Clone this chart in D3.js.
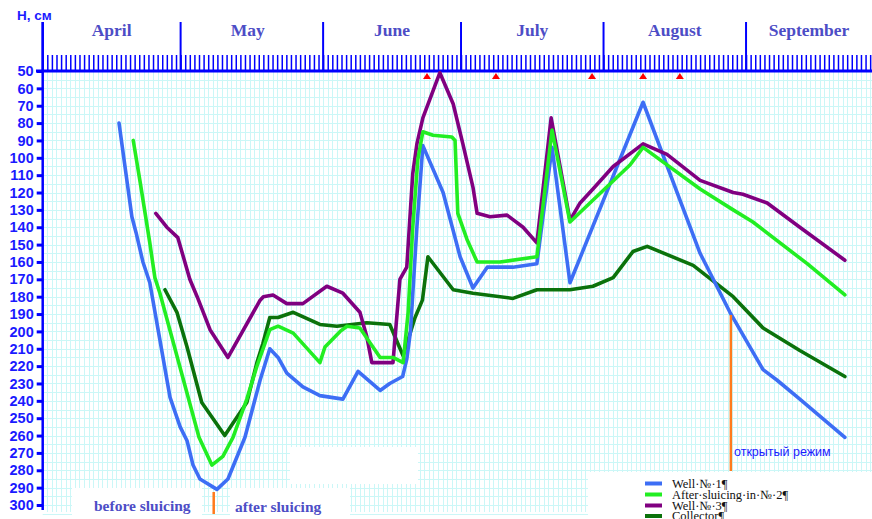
<!DOCTYPE html>
<html>
<head>
<meta charset="utf-8">
<script src="https://cdn.jsdelivr.net/npm/d3@7"></script>
<style>
  html, body { margin: 0; padding: 0; background: #fff; }
  svg { display: block; }
</style>
</head>
<body>
<svg id="chart" width="872" height="519"></svg>
<script>
// ---- Data (day index from 1 April, level H in cm) ----
const months = ["April", "May", "June", "July", "August", "September"];
const monthStartDays = [0, 30, 61, 91, 122, 153];
const yTicks = [50, 60, 70, 80, 90, 100, 110, 120, 130, 140, 150, 160, 170, 180, 190, 200, 210, 220, 230, 240, 250, 260, 270, 280, 290, 300];
const markerDays = [83.6, 98.6, 119.5, 130.6, 138.6];

const well1Days = [16.6, 17.9, 19.4, 20.3, 21.8, 23.3, 25.5, 27.7, 29.9, 31.4, 32.7, 34.2, 37.9, 40.3, 44.0, 47.3, 49.4, 51.2, 53.1, 56.6, 60.3, 65.3, 68.6, 73.4, 75.5, 78.3, 79.2, 80.0, 81.4, 82.7, 87.1, 90.8, 93.6, 96.7, 102.3, 107.5, 110.8, 114.7, 130.6, 143.0, 149.5, 156.7, 159.7, 164.7, 174.5];
const well1Vals = [80, 105, 134, 143, 160, 172, 205, 238, 255, 263, 277, 285, 291, 285, 261, 228, 210, 215, 224, 232, 237, 239, 223, 234, 230, 226, 216, 200, 140, 93, 120, 157, 175, 163, 163, 161, 94, 172, 68, 155, 189, 222, 228, 239, 261];

const well2Days = [19.7, 21.2, 23.3, 24.4, 25.5, 34.0, 36.8, 39.2, 41.4, 44.4, 46.6, 49.4, 51.2, 54.5, 60.3, 61.4, 64.7, 66.2, 69.0, 73.4, 76.2, 78.4, 79.5, 80.5, 81.6, 82.7, 84.9, 89.0, 89.7, 90.3, 92.3, 94.5, 99.5, 107.5, 110.8, 114.7, 127.8, 130.6, 143.0, 150.2, 154.5, 166.3, 174.5];
const well2Vals = [90, 114, 149, 169, 178, 261, 277, 272, 261, 239, 220, 199, 197, 201, 218, 209, 200, 197, 198, 215, 215, 218, 189, 140, 101, 85, 87, 88, 90, 132, 147, 160, 160, 157, 84, 137, 104, 94, 118, 130, 137, 161, 179];

const well3Days = [24.6, 27.0, 29.4, 32.0, 33.6, 36.4, 40.3, 47.3, 48.0, 50.1, 53.1, 56.6, 61.8, 65.3, 69.0, 70.5, 71.6, 76.2, 77.7, 79.2, 80.5, 81.4, 82.7, 86.4, 89.3, 91.4, 93.6, 94.5, 97.3, 101.0, 104.5, 107.5, 110.6, 114.7, 116.9, 119.7, 124.1, 130.6, 135.8, 143.0, 150.2, 152.3, 157.6, 164.7, 174.5];
const well3Vals = [132, 140, 146, 170, 180, 199, 215, 182, 180, 179, 184, 184, 174, 178, 189, 203, 218, 218, 170, 163, 109, 92, 77, 51, 69, 92, 117, 132, 134, 133, 140, 149, 77, 136, 126, 118, 105, 92, 98, 113, 120, 121, 126, 140, 159];

const collectorDays = [26.6, 29.2, 31.4, 34.6, 39.6, 44.4, 46.6, 47.9, 49.4, 51.2, 54.5, 60.3, 64.0, 70.5, 75.5, 78.4, 81.0, 82.6, 83.8, 89.3, 93.6, 102.3, 107.5, 114.7, 119.7, 124.1, 128.4, 131.5, 141.5, 150.2, 156.7, 164.7, 174.5];
const collectorVals = [176, 189, 209, 241, 260, 241, 218, 207, 192, 192, 189, 196, 197, 195, 196, 214, 192, 182, 157, 176, 178, 181, 176, 176, 174, 169, 154, 151, 162, 180, 198, 211, 226];

const seriesNames = ["Well·№·1¶", "After·sluicing·in·№·2¶", "Well·№·3¶", "Collector¶"];
const seriesColors = ["#3d6ef5", "#22ee22", "#800080", "#0b720b"];

// ---- Scales ----
const svg = d3.select("#chart");
const x = d3.scaleLinear().domain([0, 180.4]).range([42.7, 872]);
const y = d3.scaleLinear().domain([50, 300]).range([71, 505]);
const axisBlue = "#0000ff";
const labelBlue = "#1a1aff";
const monthBlue = "#4d4dc6";

// ---- Grid ----
const grid = svg.append("g").attr("stroke", "#cbf7f7").attr("stroke-width", 1);
grid.selectAll("line.v").data(d3.range(1, 181)).join("line")
  .attr("x1", d => Math.round(x(d)) + 0.5).attr("x2", d => Math.round(x(d)) + 0.5)
  .attr("y1", y(50)).attr("y2", 512);
grid.selectAll("line.h").data(d3.range(55, 306, 5)).join("line")
  .attr("x1", x(0)).attr("x2", 872)
  .attr("y1", d => Math.round(y(d)) + 0.5).attr("y2", d => Math.round(y(d)) + 0.5);

// white patches (covering grid behind annotations)
const patches = [[72, 488, 130, 31], [230, 488, 120, 31], [290, 447, 128, 37], [588, 472, 284, 47]];
svg.append("g").selectAll("rect").data(patches).join("rect")
  .attr("x", d => d[0]).attr("y", d => d[1]).attr("width", d => d[2]).attr("height", d => d[3])
  .attr("fill", "#fff");

// ---- Top axis (daily ticks + month separators) ----
const topAxis = svg.append("g").attr("transform", `translate(0,${y(50)})`)
  .call(d3.axisTop(x).tickValues(d3.range(0, 181)).tickSize(16).tickFormat("").tickSizeOuter(0));
topAxis.select(".domain").remove();
topAxis.selectAll(".tick line").attr("stroke", axisBlue).attr("stroke-width", 1.5);

svg.append("g").selectAll("line").data(monthStartDays).join("line")
  .attr("x1", d => x(d)).attr("x2", d => x(d))
  .attr("y1", 22).attr("y2", y(50))
  .attr("stroke", axisBlue).attr("stroke-width", 2);

svg.append("line").attr("x1", 36).attr("x2", 872).attr("y1", y(50)).attr("y2", y(50))
  .attr("stroke", axisBlue).attr("stroke-width", 3);

// month labels
svg.append("g").selectAll("text").data(months).join("text")
  .attr("x", (d, i) => {
    const s = monthStartDays[i];
    const e = i + 1 < monthStartDays.length ? monthStartDays[i + 1] : x.domain()[1];
    return x((s + e) / 2) - (i === 1 ? 4 : 0);
  })
  .attr("y", 36)
  .attr("text-anchor", "middle")
  .attr("font-family", "'Liberation Serif', 'Times New Roman', serif")
  .attr("font-weight", "bold").attr("font-size", 17.5)
  .attr("fill", monthBlue)
  .text(d => d);

// ---- Left axis ----
const leftAxis = svg.append("g").attr("transform", `translate(${x(0)},0)`)
  .call(d3.axisLeft(y).tickValues(yTicks).tickSize(6).tickPadding(3).tickSizeOuter(0));
leftAxis.select(".domain").remove();
leftAxis.selectAll(".tick line").attr("stroke", axisBlue).attr("stroke-width", 3);
leftAxis.selectAll(".tick text")
  .attr("font-family", "'Liberation Sans', Arial, sans-serif")
  .attr("font-weight", "bold").attr("font-size", 14.5)
  .attr("fill", labelBlue);
svg.append("line").attr("x1", x(0)).attr("x2", x(0)).attr("y1", 22).attr("y2", 510)
  .attr("stroke", axisBlue).attr("stroke-width", 2.5);

svg.append("text").attr("x", 17).attr("y", 20)
  .attr("font-family", "'Liberation Sans', Arial, sans-serif")
  .attr("font-weight", "bold").attr("font-size", 13.5).attr("fill", labelBlue)
  .text("H, см");

// red markers
svg.append("g").selectAll("path").data(markerDays).join("path")
  .attr("transform", d => `translate(${x(d)},${y(50) + 2})`)
  .attr("d", "M-4,6 L0,0 L4,6 Z")
  .attr("fill", "#ff0000");

// ---- Series ----
const allSeries = [
  [well1Days, well1Vals], [well2Days, well2Vals], [well3Days, well3Vals], [collectorDays, collectorVals]
];
const line = d3.line().x(d => x(d[0])).y(d => y(d[1]));
const order = [3, 0, 2, 1];
svg.append("g").selectAll("path").data(order).join("path")
  .attr("d", i => line(d3.zip(allSeries[i][0], allSeries[i][1])))
  .attr("fill", "none")
  .attr("stroke", i => seriesColors[i])
  .attr("stroke-width", 3.6)
  .attr("stroke-linejoin", "round").attr("stroke-linecap", "round");

// ---- Annotations ----
const orange = "#ff7a1c";
svg.append("line").attr("x1", x(37.2)).attr("x2", x(37.2)).attr("y1", 492).attr("y2", 514)
  .attr("stroke", orange).attr("stroke-width", 2.5);
svg.append("line").attr("x1", x(149.7)).attr("x2", x(149.7)).attr("y1", 315).attr("y2", 471)
  .attr("stroke", orange).attr("stroke-width", 2.5);

const serifBold = "'Liberation Serif', 'Times New Roman', serif";
svg.append("text").attr("x", 94).attr("y", 511)
  .attr("font-family", serifBold).attr("font-weight", "bold").attr("font-size", 15.5)
  .attr("fill", monthBlue).text("before sluicing");
svg.append("text").attr("x", 235).attr("y", 512)
  .attr("font-family", serifBold).attr("font-weight", "bold").attr("font-size", 15.5)
  .attr("fill", monthBlue).text("after sluicing");
svg.append("text").attr("x", 734).attr("y", 456)
  .attr("font-family", "'Liberation Sans', Arial, sans-serif")
  .attr("font-size", 12.5).attr("fill", labelBlue).text("открытый режим");

// ---- Legend ----
const legend = svg.append("g");
const legY = [484.5, 495.5, 506.5, 517];
legend.selectAll("line").data(seriesNames).join("line")
  .attr("x1", 645).attr("x2", 662)
  .attr("y1", (d, i) => legY[i] - 1).attr("y2", (d, i) => legY[i] - 1)
  .attr("stroke", (d, i) => seriesColors[i]).attr("stroke-width", 4);
legend.selectAll("text").data(seriesNames).join("text")
  .attr("x", 672).attr("y", (d, i) => legY[i] + 3)
  .attr("font-family", "'Liberation Serif', 'Times New Roman', serif")
  .attr("font-size", 12.5).attr("fill", "#111")
  .text(d => d);
</script>
</body>
</html>
